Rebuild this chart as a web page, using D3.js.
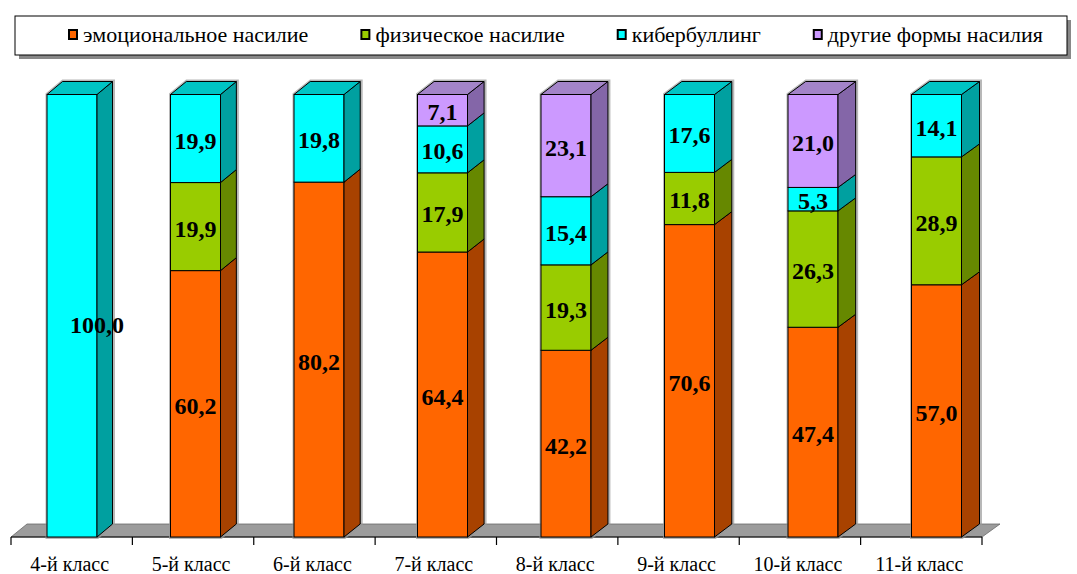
<!DOCTYPE html>
<html>
<head>
<meta charset="utf-8">
<script src="https://cdn.jsdelivr.net/npm/d3@7/dist/d3.min.js"></script>
<style>
  html, body { margin: 0; padding: 0; background: #fff; }
  svg { display: block; }
</style>
</head>
<body>
<svg id="chart" width="1077" height="574" font-family="'Liberation Serif', 'Times New Roman', Times, serif"></svg>
<script>
// ---- data ----
const categories = ["4-й класс", "5-й класс", "6-й класс", "7-й класс", "8-й класс", "9-й класс", "10-й класс", "11-й класс"];
const seriesNames = ["эмоциональное насилие", "физическое насилие", "кибербуллинг", "другие формы насилия"];
const emotional = [0, 60.2, 80.2, 64.4, 42.2, 70.6, 47.4, 57.0];
const physical  = [0, 19.9, 0, 17.9, 19.3, 11.8, 26.3, 28.9];
const cyber     = [100.0, 19.9, 19.8, 10.6, 15.4, 17.6, 5.3, 14.1];
const other     = [0, 0, 0, 7.1, 23.1, 0, 21.0, 0];

// ---- styles ----
const FONT = "'Liberation Serif', 'Times New Roman', Times, serif";
const frontColors = ["#FF6600", "#99CC00", "#00FFFF", "#CC99FF"];
const sideColors  = ["#A84200", "#668800", "#00A0A0", "#8466A8"];
const topColors   = ["#C85000", "#7FA800", "#00C4C4", "#A384C8"];

const svg = d3.select("#chart");
const keys = ["emotional", "physical", "cyber", "other"];
const rows = categories.map((c, i) => ({
  cat: c, emotional: emotional[i], physical: physical[i], cyber: cyber[i], other: other[i]
}));
const stacked = d3.stack().keys(keys)(rows);

// scales
const xAxis = d3.scaleBand().domain(categories).range([11, 982]).paddingInner(0).paddingOuter(0);
const xBar = d3.scalePoint().domain(categories).range([47, 911.5]);
const barW = 50;
const y = d3.scaleLinear().domain([0, 100]).range([537, 94.5]);
const depthX = d3.scaleLinear().domain([0, categories.length - 1]).range([15.5, 18]);
const dy = -13;

// floor
const fdx = 16, fdy = -13;
svg.append("path")
  .attr("d", `M11,537 L982,537 L${982 + fdx + 2},${537 + fdy} L${11 + fdx},${537 + fdy} Z`)
  .attr("fill", "#9c9c9c").attr("stroke", "#6a6a6a").attr("stroke-width", 0.8);

// axis line & ticks
svg.append("line").attr("x1", 11).attr("x2", 982).attr("y1", 537).attr("y2", 537)
  .attr("stroke", "#000").attr("stroke-width", 1.2);
const tickXs = categories.map(c => xAxis(c)).concat([xAxis.range()[1]]);
svg.selectAll(".tick").data(tickXs).join("line")
  .attr("x1", d => d).attr("x2", d => d).attr("y1", 537).attr("y2", 545)
  .attr("stroke", "#000").attr("stroke-width", 1.2);
svg.selectAll(".catlabel").data(categories).join("text")
  .attr("x", d => xAxis(d) + xAxis.bandwidth() / 2 - 2)
  .attr("y", 571)
  .attr("text-anchor", "middle")
  .attr("font-family", FONT)
  .attr("font-size", 20)
  .attr("fill", "#000")
  .text(d => d);

// bars
const gBars = svg.append("g");
categories.forEach((c, i) => {
  const x0 = xBar(c), x1 = x0 + barW;
  const dx = depthX(i);
  const segs = stacked.map((s, k) => ({ k, y0: s[i][0], y1: s[i][1] })).filter(s => s.y1 - s.y0 > 0);
  const topVal = d3.max(segs, s => s.y1);
  const g = gBars.append("g");
  // shadow halo
  g.append("path")
    .attr("d", `M${x0},${y(0)} L${x0},${y(topVal)} L${x0 + dx},${y(topVal) + dy} L${x1 + dx},${y(topVal) + dy} L${x1 + dx},${y(0) + dy} L${x1},${y(0)} Z`)
    .attr("fill", "none").attr("stroke", "#9a9a9a").attr("stroke-width", 4).attr("stroke-opacity", 0.7)
    .attr("transform", "translate(0.5,0)");
  segs.forEach(s => {
    const yb = y(s.y0), yt = y(s.y1);
    g.append("rect")
      .attr("x", x0).attr("y", yt).attr("width", barW).attr("height", yb - yt)
      .attr("fill", frontColors[s.k]).attr("stroke", "#000").attr("stroke-width", 1);
    g.append("path")
      .attr("d", `M${x1},${yt} L${x1 + dx},${yt + dy} L${x1 + dx},${yb + dy} L${x1},${yb} Z`)
      .attr("fill", sideColors[s.k]).attr("stroke", "#000").attr("stroke-width", 1).attr("stroke-linejoin", "round");
  });
  const top = segs[segs.length - 1];
  const yt = y(top.y1);
  g.append("path")
    .attr("d", `M${x0},${yt} L${x0 + dx},${yt + dy} L${x1 + dx},${yt + dy} L${x1},${yt} Z`)
    .attr("fill", topColors[top.k]).attr("stroke", "#000").attr("stroke-width", 1).attr("stroke-linejoin", "round");
});

// value labels
const fmt = v => d3.format(".1f")(v).replace(".", ",");
const labelShift = { "4-й класс|cyber": [25, 7] };
const gLab = svg.append("g");
categories.forEach((c, i) => {
  stacked.forEach((s, k) => {
    const v = s[i][1] - s[i][0];
    if (v <= 0) return;
    const sh = labelShift[c + "|" + keys[k]] || [0, 0];
    gLab.append("text")
      .attr("x", xBar(c) + barW / 2 + sh[0])
      .attr("y", (y(s[i][0]) + y(s[i][1])) / 2 + 10 + sh[1])
      .attr("text-anchor", "middle")
      .attr("font-family", FONT)
      .attr("font-size", 24).attr("font-weight", "bold").attr("fill", "#000")
      .text(fmt(v));
  });
});

// legend
const lg = svg.append("g");
lg.append("rect").attr("x", 17).attr("y", 18).attr("width", 1052).attr("height", 39)
  .attr("fill", "#888").attr("transform", "translate(2,2)");
lg.append("rect").attr("x", 15).attr("y", 16).attr("width", 1052).attr("height", 39)
  .attr("fill", "#fff").attr("stroke", "#000").attr("stroke-width", 1);
let cx = 69;
seriesNames.forEach((n, k) => {
  lg.append("rect").attr("x", cx).attr("y", 30).attr("width", 8).attr("height", 9)
    .attr("fill", frontColors[k]).attr("stroke", "#000").attr("stroke-width", 2);
  const t = lg.append("text").attr("x", cx + 14).attr("y", 42)
    .attr("font-family", FONT)
    .attr("font-size", 22).attr("fill", "#000").text(n);
  const w = t.node().getComputedTextLength();
  cx = cx + 14 + w + 53;
});
</script>
</body>
</html>
